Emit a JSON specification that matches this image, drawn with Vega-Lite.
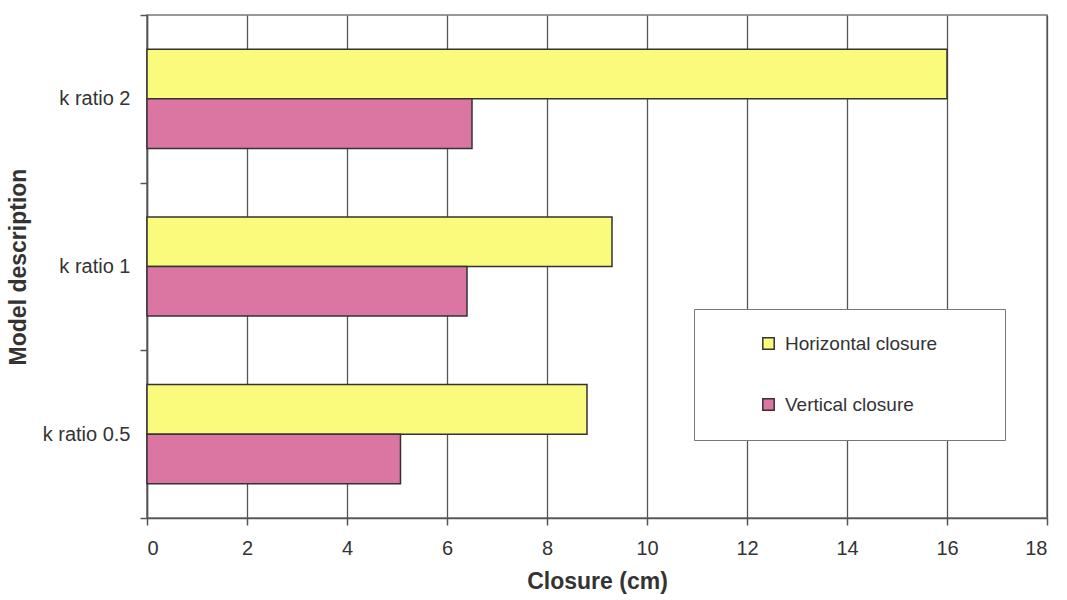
{
  "$schema": "https://vega.github.io/schema/vega-lite/v6.json",
  "width": 900,
  "height": 503,
  "autosize": {"type": "none"},
  "padding": {"left": 147, "top": 15, "right": 20, "bottom": 82},
  "background": "white",
  "data": {
    "values": [
      {"model": "k ratio 2", "series": "Horizontal closure", "value": 16.0},
      {"model": "k ratio 2", "series": "Vertical closure", "value": 6.5},
      {"model": "k ratio 1", "series": "Horizontal closure", "value": 9.3},
      {"model": "k ratio 1", "series": "Vertical closure", "value": 6.4},
      {"model": "k ratio 0.5", "series": "Horizontal closure", "value": 8.8},
      {"model": "k ratio 0.5", "series": "Vertical closure", "value": 5.07}
    ]
  },
  "mark": {"type": "bar", "stroke": "#333333", "strokeWidth": 1.5},
  "encoding": {
    "y": {
      "field": "model",
      "type": "nominal",
      "sort": ["k ratio 2", "k ratio 1", "k ratio 0.5"],
      "scale": {"paddingInner": 0, "paddingOuter": 0},
      "axis": {
        "title": "Model description",
        "tickBand": "extent",
        "grid": false,
        "domainColor": "#555555",
        "domainWidth": 1.5,
        "tickColor": "#555555",
        "tickWidth": 1.5,
        "tickSize": 7,
        "labelPadding": 10,
        "labelFontSize": 20,
        "labelColor": "#333333",
        "titleFontSize": 23,
        "titleFontWeight": "bold",
        "titleColor": "#333333",
        "titlePadding": 12
      }
    },
    "yOffset": {
      "field": "series",
      "sort": ["Horizontal closure", "Vertical closure"],
      "scale": {"paddingOuter": 0.69, "paddingInner": 0}
    },
    "x": {
      "field": "value",
      "type": "quantitative",
      "scale": {"domain": [0, 18], "nice": false},
      "axis": {
        "title": "Closure (cm)",
        "values": [0, 2, 4, 6, 8, 10, 12, 14, 16, 18],
        "grid": true,
        "gridColor": "#555555",
        "gridWidth": 1.3,
        "domainColor": "#555555",
        "domainWidth": 1.5,
        "tickColor": "#555555",
        "tickWidth": 1.5,
        "tickSize": 7,
        "labelPadding": 13,
        "labelFontSize": 20,
        "labelColor": "#333333",
        "titleFontSize": 23,
        "titleFontWeight": "bold",
        "titleColor": "#333333",
        "titlePadding": 12
      }
    },
    "color": {
      "field": "series",
      "type": "nominal",
      "scale": {
        "domain": ["Horizontal closure", "Vertical closure"],
        "range": ["#FAFA7D", "#DB75A2"]
      },
      "legend": {
        "title": null,
        "orient": "none",
        "legendX": 547,
        "legendY": 294,
        "fillColor": "white",
        "strokeColor": "#777777",
        "padding": 25,
        "symbolType": "square",
        "symbolSize": 130,
        "symbolStrokeColor": "#333333",
        "symbolStrokeWidth": 1.5,
        "symbolOffset": 40,
        "labelFontSize": 19,
        "labelColor": "#333333",
        "labelOffset": 7,
        "labelLimit": 400,
        "labelExpr": "datum.label + '\u2800\u2800\u2800'",
        "rowPadding": 41
      }
    }
  },
  "config": {
    "font": "Liberation Sans",
    "view": {"stroke": "#777777", "strokeWidth": 1.5}
  }
}
